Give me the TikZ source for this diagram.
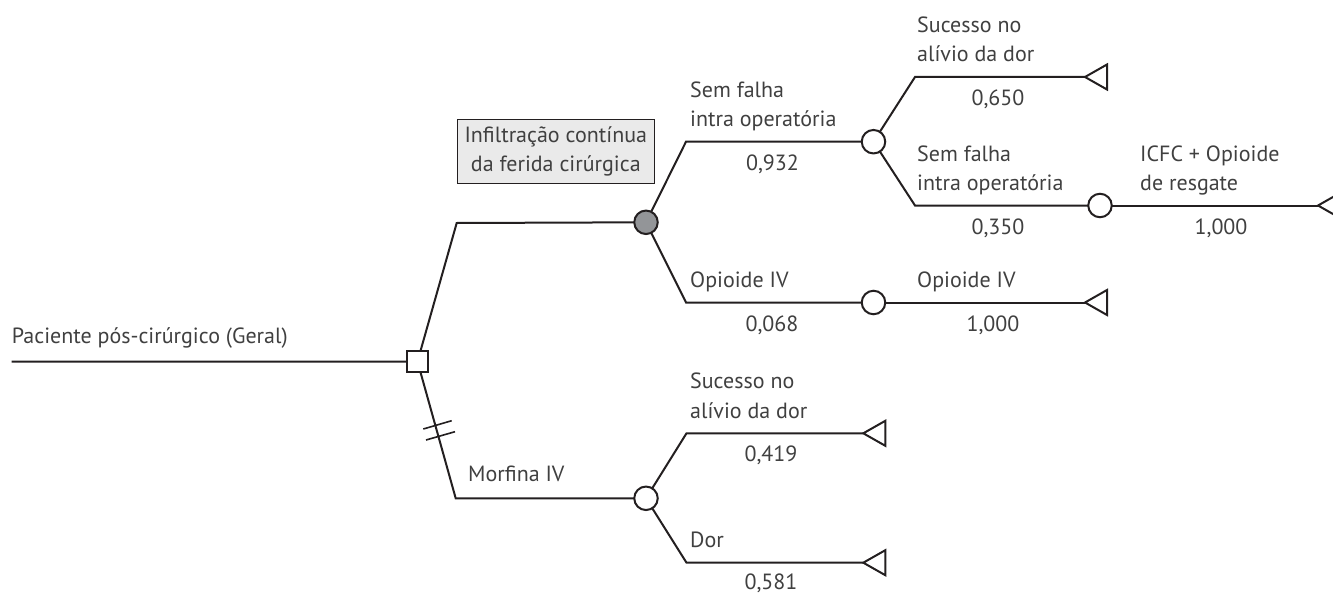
\documentclass[tikz,border=0pt]{standalone}
\usepackage{fontspec}
\setmainfont{PT Sans}
\definecolor{linec}{HTML}{231F20}
\definecolor{textc}{HTML}{404040}
\definecolor{boxfill}{HTML}{EAEAEA}
\definecolor{gcfill}{HTML}{939598}
\newcommand\lbfont{\fontsize{22}{29.5}\selectfont}
\begin{document}
\begin{tikzpicture}[x=1pt,y=-1pt,
  line/.style={draw=linec, line width=2pt},
  chance/.style={circle, draw=linec, line width=2pt, fill=white, minimum size=23.5pt, inner sep=0pt},
  decision/.style={rectangle, draw=linec, line width=2pt, fill=white, minimum size=21pt, inner sep=0pt},
  lbl/.style={text=textc, anchor=base west, inner sep=0pt, font=\lbfont},
  val/.style={text=textc, anchor=base, inner sep=0pt, font=\lbfont},
  term/.style={draw=linec, line width=2pt, fill=white, line join=miter},
  tagbox/.style={draw=linec, line width=1.2pt, fill=boxfill, minimum width=197pt, minimum height=64pt, inner sep=0pt, align=center, text=textc, font=\lbfont}
]
\useasboundingbox (0,0) rectangle (1333,594);

% coordinates
\coordinate (root) at (11.7,361.7);
\coordinate (U1) at (456.7,223);
\coordinate (D1) at (455.7,498.3);
\coordinate (A1) at (686,141.7);
\coordinate (A2) at (686,302.5);
\coordinate (B1) at (915,77);
\coordinate (B2) at (915,205.5);
\coordinate (M1) at (686.5,433.3);
\coordinate (M2) at (686.5,562.7);
\coordinate (t1) at (1085,77);
\coordinate (t2) at (1085,302.5);
\coordinate (t3) at (1318,205.5);
\coordinate (t4) at (863.3,433.3);
\coordinate (t5) at (863.3,562.7);

% connectors
\draw[line] (root) -- (417.5,361.5);
\draw[line] (417.5,361.5) -- (U1) -- (646,222.3);
\draw[line] (417.5,361.5) -- (D1) -- (646,498.3);
\draw[line] (646,222.3) -- (A1) -- (873.5,141.7);
\draw[line] (646,222.3) -- (A2) -- (873.5,302.5);
\draw[line] (873.5,141.7) -- (B1) -- (t1);
\draw[line] (873.5,141.7) -- (B2) -- (1100,205.5);
\draw[line] (1100,205.5) -- (t3);
\draw[line] (873.5,302.5) -- (t2);
\draw[line] (646,498.3) -- (M1) -- (t4);
\draw[line] (646,498.3) -- (M2) -- (t5);

% nodes
\node[decision] (sq) at (417.5,361.5) {};
\node[chance, fill=gcfill] (gc) at (646,222.3) {};
\node[chance] (c1) at (873.5,141.7) {};
\node[chance] (c2) at (873.5,302.5) {};
\node[chance] (c3) at (1100,205.5) {};
\node[chance] (m) at (646,498.3) {};

% terminals
\foreach \t in {t1,t2,t3,t4,t5}
  \draw[term] (\t) -- ++(22,-12.5) -- ++(0,25) -- cycle;

% hash marks
\draw[line, line width=1.6pt] (423.3,429) -- (451.7,420.7);
\draw[line, line width=1.6pt] (426,440) -- (455,431.7);

% box
\node[tagbox] (box) at (555.8,151.2) {Infiltração contínua\\da ferida cirúrgica};

% labels
\node[lbl] (lroot) at (11.7,343.3) {Paciente pós-cirúrgico (Geral)};
\node[lbl] (la1) at (690,97.2) {Sem falha};
\node[lbl] (la1b) at (690,126.7) {intra operatória};
\node[lbl] (la2) at (690,287.5) {Opioide IV};
\node[lbl] (lb1) at (917,32.5) {Sucesso no};
\node[lbl] (lb1b) at (917,62) {alívio da dor};
\node[lbl] (lb2) at (917,161) {Sem falha};
\node[lbl] (lb2b) at (917,190.5) {intra operatória};
\node[lbl] (lc3) at (1140,161) {ICFC + Opioide};
\node[lbl] (lc3b) at (1140,190.5) {de resgate};
\node[lbl] (lc2) at (917,287.5) {Opioide IV};
\node[lbl] (lm1) at (690,388.8) {Sucesso no};
\node[lbl] (lm1b) at (690,418.3) {alívio da dor};
\node[lbl] (lm2) at (690,547.7) {Dor};
\node[lbl] (lmor) at (468,481.7) {Morfina IV};

% values
\node[val] (v1) at (772.5,170.2) {0,932};
\node[val] (v2) at (772,331) {0,068};
\node[val] (v3) at (998,105.5) {0,650};
\node[val] (v4) at (998,234) {0,350};
\node[val] (v5) at (993,331) {1,000};
\node[val] (v6) at (1221,234) {1,000};
\node[val] (v7) at (771,461.8) {0,419};
\node[val] (v8) at (771,589) {0,581};
\end{tikzpicture}
\end{document}
